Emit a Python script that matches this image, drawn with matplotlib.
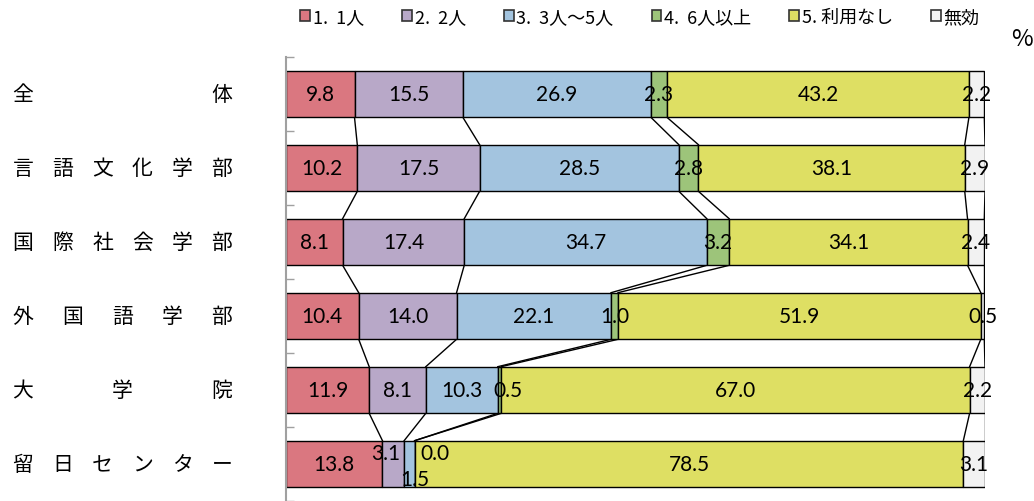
import numpy as np
import matplotlib.pyplot as plt
from matplotlib.transforms import blended_transform_factory, offset_copy

plt.rcParams['font.family'] = ['Noto Sans CJK JP', 'DejaVu Sans']

groups = ["全体", "言語文化学部", "国際社会学部", "外国語学部", "大学院", "留日センター"]
series = ["1.  1人", "2.  2人", "3.  3人～5人", "4.  6人以上", "5. 利用なし", "無効"]

v1 = [9.8, 10.2, 8.1, 10.4, 11.9, 13.8]
v2 = [15.5, 17.5, 17.4, 14.0, 8.1, 3.1]
v3 = [26.9, 28.5, 34.7, 22.1, 10.3, 1.5]
v4 = [2.3, 2.8, 3.2, 1.0, 0.5, 0.0]
v5 = [43.2, 38.1, 34.1, 51.9, 67.0, 78.5]
v6 = [2.2, 2.9, 2.4, 0.5, 2.2, 3.1]

colors = ["#DA7780", "#B8A8C8", "#A3C4DF", "#9DC47A", "#DEDF63", "#F2F2F2"]

# label nudges (pixels) where Excel moved overlapping labels
nudge = {(5, 1): (-8, 11), (5, 2): (5, -15), (5, 3): (20, 11), (4, 3): (8, 0)}

vals = np.array([v1, v2, v3, v4, v5, v6])
n = len(groups)
h = 0.63

fig = plt.figure(figsize=(10.34, 5.02), dpi=100)
ax = fig.add_axes([286 / 1034, 0, 699 / 1034, 444 / 502])

y = np.arange(n)
left = np.zeros(n)
cums = []
bars = []
for k in range(len(series)):
    b = ax.barh(y, vals[k], left=left, height=h, color=colors[k],
                edgecolor="black", linewidth=1.0, label=series[k], zorder=2)
    bars.append(b)
    for i in range(n):
        dx, dy = nudge.get((i, k), (0, 0))
        tr = offset_copy(ax.transData, fig=fig, x=dx, y=dy, units="dots")
        ax.text(left[i] + vals[k][i] / 2, y[i], f"{vals[k][i]:.1f}", transform=tr,
                ha="center", va="center", fontsize=15, family="Lato", zorder=4)
    left = left + vals[k]
    cums.append(left.copy())

# series lines between bars
for c in cums:
    for i in range(n - 1):
        ax.plot([c[i], c[i + 1]], [y[i] + h / 2, y[i + 1] - h / 2],
                color="black", linewidth=1.0, zorder=1)

ax.set_xlim(0, 100)
ax.set_ylim(n - 0.5, -0.5)
ax.set_xticks([])
ax.set_yticks(np.arange(-0.5, n, 1.0))
ax.set_yticklabels([])
ax.tick_params(axis="y", direction="in", length=6, color="#A0A0A0", width=1)
for s in ["top", "right", "bottom"]:
    ax.spines[s].set_visible(False)
ax.spines["left"].set_color("#A0A0A0")
ax.spines["left"].set_linewidth(1.5)

# spaced-out group labels
tr = blended_transform_factory(fig.transFigure, ax.transData)
for i, g in enumerate(groups):
    xs = np.linspace(23, 222, len(g))
    for ch, xp in zip(g, xs):
        ax.text(xp / 1034, y[i], ch, transform=tr, ha="center", va="center",
                fontsize=15)

leg = fig.legend(handles=bars, labels=series, loc="center",
                 bbox_to_anchor=(640 / 1034, 1 - 18 / 502),
                 ncol=6, frameon=False, fontsize=13, handlelength=0.55, handleheight=0.55,
                 handletextpad=0.15, columnspacing=2.1, borderaxespad=0)
for p in leg.get_patches():
    p.set_edgecolor("#333333")
    p.set_linewidth(1.2)
fig.text(1022 / 1034, 1 - 40 / 502, "%", ha="center", va="center", fontsize=17)

fig.savefig("out.png", dpi=100)
